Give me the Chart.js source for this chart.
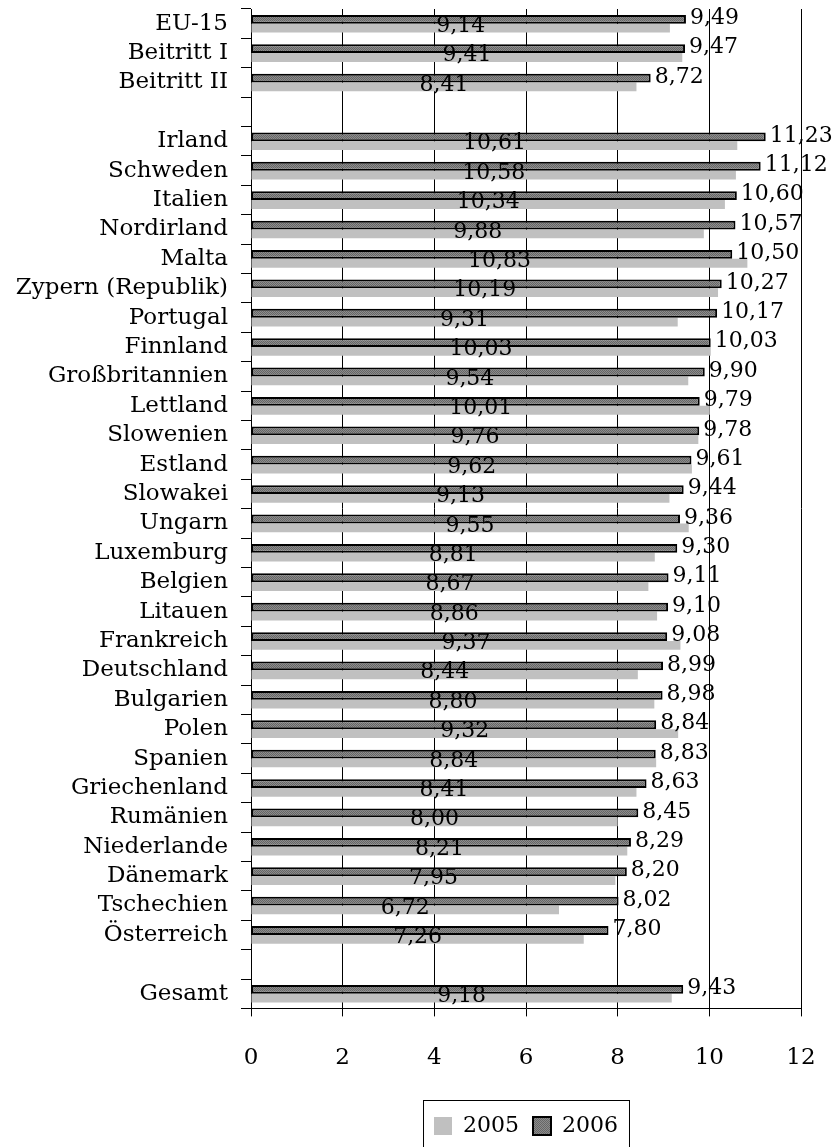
<!DOCTYPE html>
<html lang="de">
<head>
    <meta charset="UTF-8">
    <title>2005 / 2006</title>
    <script src="https://cdn.jsdelivr.net/npm/chart.js"></script>
    <style>
        body { margin: 0; background: #fff; }
        #wrap { width: 836px; height: 1147px; position: relative; }
    </style>
</head>
<body>
<div id="wrap">
    <canvas id="myChart"></canvas>
</div>
<script>
    const categories = ['EU-15', 'Beitritt I', 'Beitritt II', '',
        'Irland', 'Schweden', 'Italien', 'Nordirland', 'Malta', 'Zypern (Republik)',
        'Portugal', 'Finnland', 'Großbritannien', 'Lettland', 'Slowenien', 'Estland',
        'Slowakei', 'Ungarn', 'Luxemburg', 'Belgien', 'Litauen', 'Frankreich',
        'Deutschland', 'Bulgarien', 'Polen', 'Spanien', 'Griechenland', 'Rumänien',
        'Niederlande', 'Dänemark', 'Tschechien', 'Österreich', '', 'Gesamt'];

    const values2006 = [9.49, 9.47, 8.72, null,
        11.23, 11.12, 10.60, 10.57, 10.50, 10.27,
        10.17, 10.03, 9.90, 9.79, 9.78, 9.61,
        9.44, 9.36, 9.30, 9.11, 9.10, 9.08,
        8.99, 8.98, 8.84, 8.83, 8.63, 8.45,
        8.29, 8.20, 8.02, 7.80, null, 9.43];

    const values2005 = [9.14, 9.41, 8.41, null,
        10.61, 10.58, 10.34, 9.88, 10.83, 10.19,
        9.31, 10.03, 9.54, 10.01, 9.76, 9.62,
        9.13, 9.55, 8.81, 8.67, 8.86, 9.37,
        8.44, 8.80, 9.32, 8.84, 8.41, 8.00,
        8.21, 7.95, 6.72, 7.26, null, 9.18];

    const xTicks = [0, 2, 4, 6, 8, 10, 12];

    const FONT = 'DejaVu Serif';
    Chart.defaults.color = '#000';
    Chart.defaults.font.family = FONT;

    // fine dotted fill for the 2006 bars
    function makePattern() {
        const c = document.createElement('canvas');
        c.width = 2; c.height = 2;
        const g = c.getContext('2d');
        g.fillStyle = '#8c8c8c';
        g.fillRect(0, 0, 2, 2);
        g.fillStyle = '#666';
        g.fillRect(0, 0, 1, 1);
        g.fillRect(1, 1, 1, 1);
        return g.createPattern(c, 'repeat');
    }

    const fmt = v => v.toFixed(2).replace('.', ',');

    const valueLabels = {
        id: 'valueLabels',
        afterDatasetsDraw(chart) {
            const ctx = chart.ctx;
            ctx.save();
            ctx.fillStyle = '#000';
            ctx.font = '22px "' + FONT + '"';
            ctx.textBaseline = 'middle';
            chart.data.datasets.forEach((ds, i) => {
                const meta = chart.getDatasetMeta(i);
                meta.data.forEach((bar, j) => {
                    const v = ds.data[j];
                    if (v === null) return;
                    if (i === 0) {
                        ctx.textAlign = 'left';
                        ctx.fillText(fmt(v), bar.x + 4, bar.y - 1);
                    } else {
                        ctx.textAlign = 'center';
                        ctx.fillText(fmt(v), (bar.x + bar.base) / 2, bar.y - 2);
                    }
                });
            });
            ctx.restore();
        }
    };

    const legendBox = {
        id: 'legendBox',
        afterDraw(chart) {
            const boxes = chart.legend.legendHitBoxes;
            if (!boxes || !boxes.length) return;
            const first = boxes[0], last = boxes[boxes.length - 1];
            const ctx = chart.ctx;
            ctx.save();
            ctx.strokeStyle = '#000';
            ctx.lineWidth = 1;
            ctx.strokeRect(first.left - 10.5, first.top - 14.5,
                last.left + last.width - first.left + 22, first.height + 40);
            ctx.restore();
        }
    };

    const ctx = document.getElementById('myChart').getContext('2d');
    const chart = new Chart(ctx, {
        type: 'bar',
        data: {
            labels: categories,
            datasets: [{
                label: '2006',
                data: values2006,
                backgroundColor: makePattern(),
                borderColor: '#000',
                borderWidth: 2,
                borderSkipped: false
            }, {
                label: '2005',
                data: values2005,
                backgroundColor: '#c0c0c0',
                borderWidth: 0
            }]
        },
        options: {
            indexAxis: 'y',
            responsive: true,
            maintainAspectRatio: false,
            animation: false,
            categoryPercentage: 0.6,
            barPercentage: 1,
            layout: { padding: { top: 9, right: 35, left: 0, bottom: 0 } },
            scales: {
                x: {
                    min: 0,
                    max: 12,
                    afterBuildTicks: s => { s.ticks = xTicks.map(v => ({ value: v })); },
                    afterFit: s => {
                        s.height += 1;
                        s.paddingLeft = 0; s.paddingRight = 0;
                    },
                    grid: { color: '#000', lineWidth: 1, tickLength: 8 },
                    border: { color: '#000', width: 1 },
                    ticks: { padding: 28, font: { size: 23 }, color: '#000' }
                },
                y: {
                    afterFit: s => {
                        s.width = 251;
                        s.paddingTop = 0; s.paddingBottom = 0;
                    },
                    grid: { display: true, drawOnChartArea: false, color: '#000', tickLength: 10, offset: true },
                    border: { color: '#000', width: 1 },
                    ticks: { padding: 13, font: { size: 23 }, color: '#000', autoSkip: false }
                }
            },
            plugins: {
                legend: {
                    position: 'bottom',
                    fullSize: false,
                    labels: {
                        boxWidth: 18,
                        boxHeight: 18,
                        padding: 14,
                        font: { size: 22 },
                        color: '#000',
                        sort: (a, b) => b.datasetIndex - a.datasetIndex
                    }
                },
                tooltip: { enabled: false }
            }
        },
        plugins: [valueLabels, legendBox]
    });
</script>
</body>
</html>
